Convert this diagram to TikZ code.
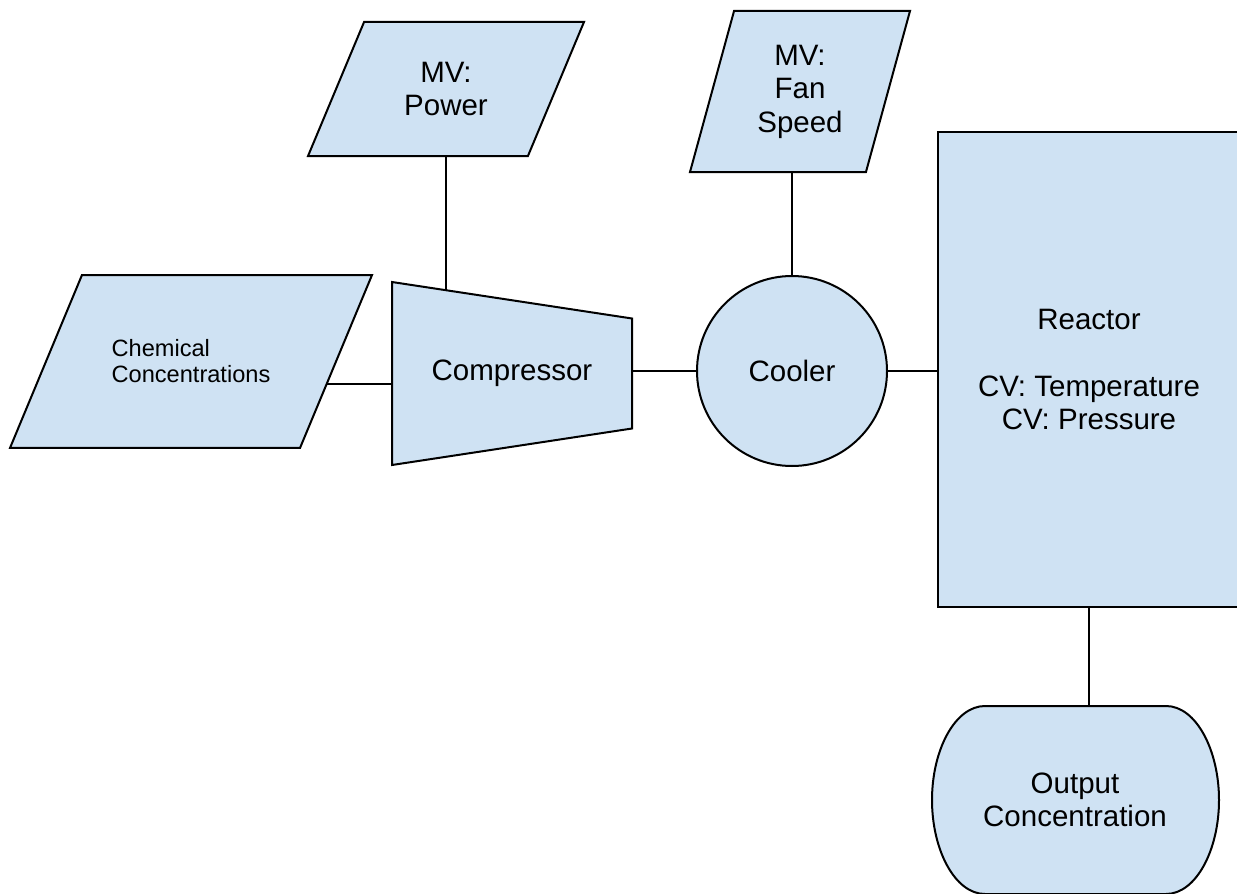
\documentclass[tikz,border=0pt]{standalone}
\usepackage{fontspec}
\setmainfont{Liberation Sans}
\usetikzlibrary{shapes.geometric,backgrounds}
\definecolor{paleblue}{HTML}{CFE2F3}
\tikzset{
  unit/.style={draw=black, fill=paleblue, line width=1pt, inner sep=0pt, outer sep=0pt,
    align=center, font=\fontsize{14.75pt}{16.75pt}\selectfont},
  slanted/.style={unit, trapezium, trapezium stretches body=true},
  link/.style={line width=1pt},
}

\begin{document}
\begin{tikzpicture}[x=0.5pt,y=-0.5pt]
\useasboundingbox (0,0) rectangle (1237,894);
% inputs
\node[slanted, trapezium left angle=67.3, trapezium right angle=112.7,
  minimum width=138pt, inner ysep=20pt] (power) at (446,89) {MV:\\Power};
\node[slanted, trapezium left angle=74.7, trapezium right angle=105.3,
  minimum width=110pt, inner ysep=16.9pt] (fan) at (800,91.5) {MV:\\Fan\\Speed};
\node[slanted, trapezium left angle=67.4, trapezium right angle=112.6,
  minimum width=181pt, inner ysep=32.4pt, align=left,
  font=\fontsize{11.8pt}{13pt}\selectfont] (chem) at (191,361.5) {Chemical\\Concentrations};
% process units
\node[slanted, trapezium angle=77.2, shape border rotate=270,
  minimum width=91.5pt, minimum height=120pt] (comp) at (512,373.5) {Compressor};
\node[unit, circle, minimum size=95pt] (cooler) at (792,371) {Cooler};
\node[unit, rectangle, minimum width=151pt, minimum height=237.5pt] (reactor) at (1089,369.5)
  {Reactor\\[16.75pt]CV: Temperature\\CV: Pressure};
% output
\filldraw[unit] (985,706) -- (1166,706) .. controls (1196,706) and (1219,750) .. (1219,800)
  .. controls (1219,850) and (1196,894) .. (1166,894) -- (985,894)
  .. controls (955,894) and (932,850) .. (932,800) .. controls (932,750) and (955,706) .. (985,706) -- cycle;
\node[align=center, font=\fontsize{14.75pt}{16.75pt}\selectfont] (output) at (1075,800) {Output\\Concentration};
\coordinate (outtop) at (1089,706);
% connectors
\begin{scope}[on background layer]
\draw[link] (power.center |- power.south) -- (power.center |- comp.center);
\draw[link] (cooler |- fan.south) -- (cooler);
\draw[link] ([yshift=-11pt]chem.center) -- ([yshift=-11pt]chem.center -| comp.center);
\draw[link] (cooler -| comp) -- (cooler) -- (cooler -| reactor);
\end{scope}
\draw[link] (reactor.south) -- (outtop);
\end{tikzpicture}
\end{document}
